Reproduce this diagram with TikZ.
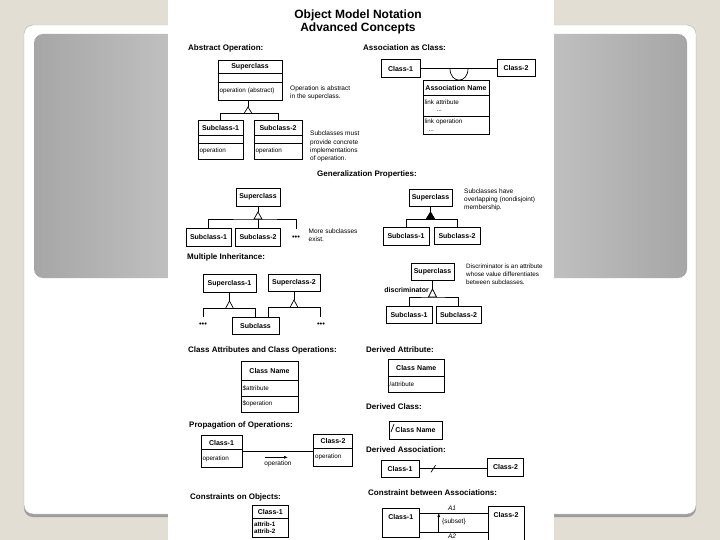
\documentclass[tikz,border=0pt]{standalone}
\usepackage{fontspec}
\setmainfont{Liberation Sans}
\usepackage{tikz}
\usetikzlibrary{arrows.meta,positioning,calc}
\definecolor{slidebg}{HTML}{E2DED4}
\definecolor{panelshadow}{HTML}{9C9C9C}
\definecolor{shadegray}{HTML}{A6A6A6}
\definecolor{shadelight}{HTML}{E4E4E4}

\begin{document}
\begin{tikzpicture}[
    x=1pt, y=-1pt,
    cname/.style={rectangle, draw, fill=white, line width=0.7pt, inner xsep=1.5pt, inner ysep=0pt, outer sep=0pt, text width=#1, align=center, font=\fontsize{7}{8}\selectfont\bfseries},
    cpart/.style={cname=#1, align=left, font=\fontsize{6.3}{7.5}\selectfont},
    head/.style={anchor=west, inner sep=0pt, font=\fontsize{8}{9}\selectfont\bfseries},
    note/.style={anchor=north west, inner sep=0pt, align=left, font=\fontsize{6.5}{8}\selectfont},
    dots/.style={inner sep=0pt, font=\fontsize{7.5}{8}\selectfont},
    conn/.style={line width=0.7pt},
    gen/.style={line width=0.7pt, fill=white},
    arrow/.style={-{Latex[length=4pt,width=3pt]}, line width=0.7pt}
]
  \useasboundingbox (0,0) rectangle (720,540);

  % slide behind the scanned page
  \fill[slidebg] (0,0) rectangle (720,540);
  \fill[panelshadow, rounded corners=9pt] (24,28) rectangle (696,517);
  \draw[gray!60, fill=white, rounded corners=9pt] (24,25) rectangle (696,514);
  \shade[rounded corners=9pt, left color=shadegray, right color=shadegray, middle color=shadelight] (34,34) rectangle (687,278);
  \fill[white] (168,0) rectangle (554,540);

  \node[font=\fontsize{12}{12.7}\selectfont\bfseries, align=center] (title) at (358,22) {Object Model Notation\\Advanced Concepts};

  % Abstract Operation
  \node[head] (hAbs) at (188,48) {Abstract Operation:};
  \node[cname=61pt, minimum height=13.3pt] (asup) at (250,66.6) {Superclass};
  \node[cpart=61pt, minimum height=9.3pt, below=0pt of asup] (asupa) {};
  \node[cpart=61pt, minimum height=17.4pt, below=0pt of asupa] (asupo) {operation (abstract)};
  \node[cname=42pt, minimum height=14.5pt] (asub1) at (220.5,127.7) {Subclass-1};
  \node[cpart=42pt, minimum height=8pt, below=0pt of asub1] (asub1a) {};
  \node[cpart=42pt, minimum height=16pt, below=0pt of asub1a] (asub1o) {operation};
  \node[cname=45pt, minimum height=14.5pt] (asub2) at (278,127.7) {Subclass-2};
  \node[cpart=45pt, minimum height=8pt, below=0pt of asub2] (asub2a) {};
  \node[cpart=45pt, minimum height=16pt, below=0pt of asub2a] (asub2o) {operation};
  \coordinate (aTop) at (248,107);
  \coordinate (aBase) at (248,113.6);
  \draw[conn] (asupo.south -| aTop) -- (aTop);
  \draw[conn] (asub1.north) |- (aBase) -| (asub2.north);
  \draw[gen] (aTop) -- ++(-4,6.6) -- ++(8,0) -- cycle;
  \node[note] (nAbs) at (290,85.3) {Operation is abstract\\in the superclass.};
  \node[note, font=\fontsize{6.5}{8.2}\selectfont] (nSub) at (310,131) {Subclasses must\\provide concrete\\implementations\\of operation.};

  % Association as Class
  \node[head] (hAsc) at (363,48) {Association as Class:};
  \node[cname=36pt, minimum height=18pt] (ac1) at (400.5,68.5) {Class-1};
  \node[cname=35pt, minimum height=17.5pt] (ac2) at (516,68) {Class-2};
  \draw[conn] (ac1.east) -- (ac1.east -| ac2.west);
  \coordinate (lpL) at (450,68.5);
  \coordinate (lpR) at (468,68.5);
  \draw[conn] (lpL) .. controls (450,84) and (468,84) .. (lpR);
  \node[cname=63pt, minimum height=15.5pt] (aname) at (456,87.75) {Association Name};
  \node[cpart=63pt, minimum height=20.5pt, below=0pt of aname] (alatt) {link attribute\\\hspace*{12pt}...};
  \node[cpart=63pt, minimum height=18pt, below=0pt of alatt] (alop) {link operation\\\hspace*{4pt}...};

  % Generalization Properties
  \node[head] (hGen) at (317,174) {Generalization Properties:};
  \node[cname=41pt, minimum height=18pt] (gsup) at (258,197) {Superclass};
  \node[cname=42pt, minimum height=18pt] (gs1) at (208.5,237) {Subclass-1};
  \node[cname=42pt, minimum height=18pt] (gs2) at (258,237) {Subclass-2};
  \node[dots] (gdots) at (296,238) {\textbullet\textbullet\textbullet};
  \coordinate (gTop) at (258,212);
  \coordinate (gBase) at (258,219);
  \coordinate (gEnd) at (296,229);
  \draw[conn] (gsup.south -| gTop) -- (gTop);
  \draw[conn] (gs1.north) |- (gBase) -| (gEnd);
  \draw[conn] (gBase) -- (gs2.north);
  \draw[gen] (gTop) -- ++(-4,7) -- ++(8,0) -- cycle;
  \node[note] (nMore) at (308.5,228.2) {More subclasses\\exist.};

  \node[cname=40pt, minimum height=17pt] (osup) at (430.5,197.5) {Superclass};
  \node[cname=43pt, minimum height=18pt] (os1) at (406,236) {Subclass-1};
  \node[cname=43pt, minimum height=17pt] (os2) at (457,235.5) {Subclass-2};
  \coordinate (oTop) at (430.5,212);
  \coordinate (oBase) at (430.5,219.5);
  \draw[conn] (osup.south -| oTop) -- (oTop);
  \draw[conn] (os1.north) |- (oBase) -| (os2.north);
  \draw[conn, fill=black] (oTop) -- ++(-4.6,7.5) -- ++(9.2,0) -- cycle;
  \node[note] (nOver) at (464,188.5) {Subclasses have\\overlapping (nondisjoint)\\membership.};

  % Multiple Inheritance
  \node[head] (hMul) at (187,257) {Multiple Inheritance:};
  \node[cname=50pt, minimum height=17.5pt] (ms1) at (229.5,283.25) {Superclass-1};
  \node[cname=49pt, minimum height=17pt] (ms2) at (294,282.5) {Superclass-2};
  \node[cname=44pt, minimum height=17pt] (msub) at (255.5,325.5) {Subclass};
  \node[dots] (mdots1) at (203,325) {\textbullet\textbullet\textbullet};
  \node[dots] (mdots2) at (321,325) {\textbullet\textbullet\textbullet};
  \coordinate (m1Top) at (229.5,301);
  \coordinate (m1Base) at (229.5,308.5);
  \coordinate (m1End) at (203,317);
  \coordinate (m2Top) at (294,300);
  \coordinate (m2Base) at (294,307.5);
  \coordinate (m2End) at (320,317);
  \draw[conn] (ms1.south -| m1Top) -- (m1Top);
  \draw[conn] (m1End) |- (m1Base) -| (msub.north);
  \draw[gen] (m1Top) -- ++(-4,7.5) -- ++(8,0) -- cycle;
  \draw[conn] (ms2.south -| m2Top) -- (m2Top);
  \draw[conn] ([xshift=13pt]msub.north) |- (m2Base) -| (m2End);
  \draw[gen] (m2Top) -- ++(-4,7.5) -- ++(8,0) -- cycle;

  % Discriminator
  \node[cname=40pt, minimum height=17pt] (dsup) at (432.5,272) {Superclass};
  \node[cname=43pt, minimum height=17pt] (ds1) at (409,315) {Subclass-1};
  \node[cname=42pt, minimum height=17pt] (ds2) at (458.5,314.5) {Subclass-2};
  \coordinate (dTop) at (432.5,289);
  \coordinate (dBase) at (432.5,297);
  \draw[conn] (dsup.south -| dTop) -- (dTop);
  \draw[conn] (ds1.north) |- (dBase) -| (ds2.north);
  \draw[gen] (dTop) -- ++(-4,8) -- ++(8,0) -- cycle;
  \node[anchor=east, inner sep=0pt, font=\fontsize{7}{8}\selectfont\bfseries] (dlab) at (429,289.5) {discriminator};
  \node[note, font=\fontsize{6.3}{8}\selectfont] (nDisc) at (466,263.5) {Discriminator is an attribute\\whose value differentiates\\between subclasses.};

  % Class Attributes and Class Operations
  \node[head] (hCA) at (188,350.5) {Class Attributes and Class Operations:};
  \node[cname=54pt, minimum height=19pt] (ca) at (269.5,371) {Class Name};
  \node[cpart=54pt, minimum height=15.5pt, below=0pt of ca] (caa) {\$attribute};
  \node[cpart=54pt, minimum height=16pt, below=0pt of caa] (cao) {\$operation};

  % Derived Attribute / Class
  \node[head] (hDA) at (366,350) {Derived Attribute:};
  \node[cname=53.5pt, minimum height=17pt] (dattr) at (416.25,367.5) {Class Name};
  \node[cpart=53.5pt, minimum height=16pt, below=0pt of dattr] (dattra) {/attribute};
  \node[head] (hDC) at (366,407) {Derived Class:};
  \node[cname=50pt, minimum height=18pt] (dcls) at (415.5,430) {Class Name};
  \draw[conn] ([shift={(2pt,-11pt)}]dcls.north west) -- ([shift={(5pt,-3pt)}]dcls.north west);

  % Propagation of Operations
  \node[head] (hProp) at (189,425) {Propagation of Operations:};
  \node[cname=38pt, minimum height=13.8pt] (pc1) at (221.5,442.5) {Class-1};
  \node[cpart=38pt, minimum height=18.2pt, below=0pt of pc1] (pc1o) {operation};
  \node[cname=36pt, minimum height=13.4pt] (pc2) at (333,441.3) {Class-2};
  \node[cpart=36pt, minimum height=18.6pt, below=0pt of pc2] (pc2o) {operation};
  \draw[conn] ([yshift=-1.5pt]pc1.south east) -- ([yshift=-1.5pt]pc1.south east -| pc2o.west);
  \coordinate (pa) at (265,457.3);
  \coordinate (pb) at (288,457.3);
  \draw[arrow] (pa) -- (pb);
  \node[inner sep=0pt, font=\fontsize{6.5}{8}\selectfont] (plab) at (278,463.5) {operation};

  % Derived Association
  \node[head] (hDAs) at (366,450) {Derived Association:};
  \node[cname=35pt, minimum height=16.3pt] (das1) at (400,468.8) {Class-1};
  \node[cname=33pt, minimum height=17.3pt] (das2) at (505.5,467.4) {Class-2};
  \draw[conn] (das1.east) -- (das1.east -| das2.west);
  \draw[conn] ([shift={(12pt,-3.5pt)}]das1.east) -- ([shift={(16.5pt,3.5pt)}]das1.east);

  % Constraints on Objects
  \node[head] (hCO) at (190,497) {Constraints on Objects:};
  \node[cname=32.5pt, minimum height=13pt] (co) at (270.25,511.5) {Class-1};
  \node[cpart=32.5pt, minimum height=19pt, below=0pt of co, font=\fontsize{6.3}{7.5}\selectfont\bfseries] (coa) {attrib-1\\attrib-2};

  % Constraint between Associations
  \node[head] (hCB) at (368,493) {Constraint between Associations:};
  \node[cname=34pt, minimum height=29pt, text height=9pt, text depth=16pt] (cb1) at (400.75,522.5) {Class-1};
  \node[cname=33pt, minimum height=34pt, text height=9.5pt, text depth=20.5pt] (cb2) at (506,523) {Class-2};
  \draw[conn] ([yshift=9.5pt]cb1.east) -- ([yshift=9.5pt]cb1.east -| cb2.west);
  \draw[conn] ([yshift=-9.5pt]cb1.east) -- ([yshift=-9.5pt]cb1.east -| cb2.west);
  \draw[arrow] ([shift={(19.5pt,-9.5pt)}]cb1.east) -- ([shift={(19.5pt,9.5pt)}]cb1.east);
  \node[inner sep=0pt, font=\fontsize{6.5}{8}\selectfont\itshape] (a1) at (452,508.5) {A1};
  \node[inner sep=0pt, font=\fontsize{6.5}{8}\selectfont\itshape] (a2) at (452,536.5) {A2};
  \node[anchor=west, inner sep=0pt, font=\fontsize{6.5}{8}\selectfont] (subset) at (442,522) {\{subset\}};
\end{tikzpicture}
\end{document}
